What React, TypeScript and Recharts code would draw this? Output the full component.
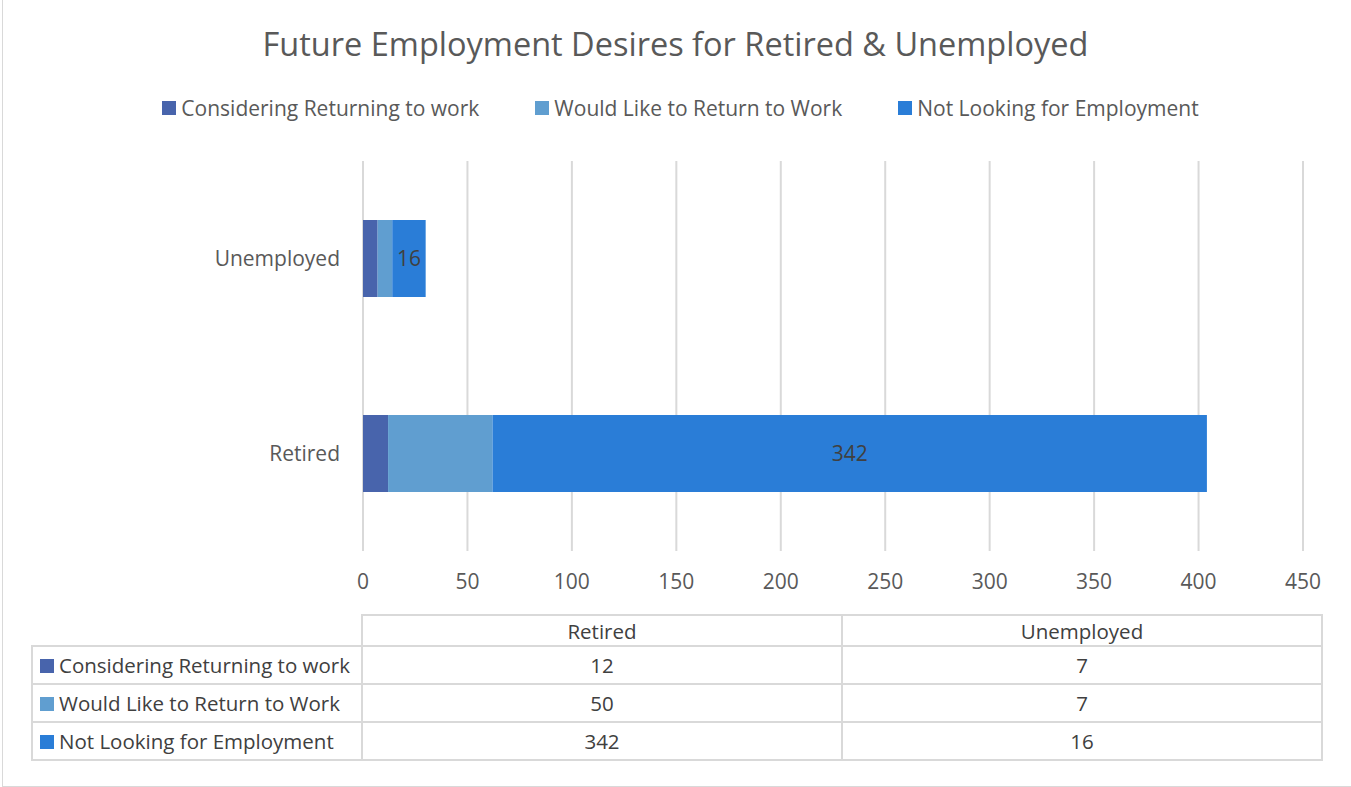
import React from "react";
import { BarChart, Bar, XAxis, YAxis, CartesianGrid, LabelList } from "recharts";

const categories = ["Retired", "Unemployed"];
const seriesNames = ["Considering Returning to work", "Would Like to Return to Work", "Not Looking for Employment"];
const considering = [12, 7];
const wouldLike = [50, 7];
const notLooking = [342, 16];
const xTicks = [0, 50, 100, 150, 200, 250, 300, 350, 400, 450];
const colors = ["#4864AC", "#609ED0", "#2A7DD7"];

const seriesValues = [considering, wouldLike, notLooking];
const keys = ["considering", "wouldLike", "notLooking"];

const data = categories.map((c, i) => ({
  category: c,
  considering: considering[i],
  wouldLike: wouldLike[i],
  notLooking: notLooking[i],
}));

const FONT = "'Open Sans', 'Noto Sans', sans-serif";

const cellBorder = "2px solid #d9d9d9";

export default function App() {
  return (
    <div style={{ position: "absolute", left: 0, top: 0, width: 1351, height: 787, background: "#fff", overflow: "hidden" }}>
      <div style={{ position: "absolute", left: 2, top: 0, width: 1349, height: 786, borderLeft: "1px solid #d9d9d9", borderBottom: "1px solid #d9d9d9" }} />
      <div style={{ position: "absolute", top: 21, left: 0, width: 1351, textAlign: "center", fontFamily: FONT, fontSize: 32.5, color: "#595959", whiteSpace: "nowrap" }}>
        Future Employment Desires for Retired &amp; Unemployed
      </div>
      <div
        style={{
          position: "absolute",
          top: 94,
          left: 5,
          width: 1351,
          display: "flex",
          justifyContent: "center",
          gap: 56,
          fontFamily: FONT,
          fontSize: 21,
          color: "#595959",
          whiteSpace: "nowrap",
        }}
      >
        {seriesNames.map((n, i) => (
          <div key={n} style={{ display: "flex", alignItems: "center" }}>
            <span style={{ display: "inline-block", width: 14, height: 14, background: colors[i], marginRight: 5 }} />
            <span>{n}</span>
          </div>
        ))}
      </div>
      <BarChart
        width={1351}
        height={787}
        data={data}
        layout="vertical"
        margin={{ top: 161, right: 48, bottom: 206, left: 0 }}
        barCategoryGap="30%"
      >
        <CartesianGrid horizontal={false} stroke="#d9d9d9" strokeWidth={2} />
        <XAxis
          type="number"
          domain={[0, 450]}
          ticks={xTicks}
          axisLine={false}
          tickLine={false}
          tickSize={0}
          tickMargin={23}
          tick={{ fill: "#595959", fontSize: 21, fontFamily: FONT }}
          interval={0}
        />
        <YAxis
          type="category"
          dataKey="category"
          reversed
          width={363}
          axisLine={false}
          tickLine={false}
          tickSize={0}
          tickMargin={23}
          tick={{ fill: "#595959", fontSize: 21, fontFamily: FONT }}
        />
        {keys.map((k, i) => (
          <Bar key={k} dataKey={k} name={seriesNames[i]} stackId="a" fill={colors[i]} barSize={77} isAnimationActive={false}>
            {i === 2 && (
              <LabelList dataKey={k} position="center" fill="#404040" fontSize={21} fontFamily={FONT} />
            )}
          </Bar>
        ))}
      </BarChart>
      <table
        style={{
          position: "absolute",
          left: 31,
          top: 614,
          borderCollapse: "collapse",
          fontFamily: FONT,
          fontSize: 20.5,
          color: "#404040",
        }}
      >
        <tbody>
          <tr style={{ height: 31 }}>
            <td style={{ width: 329, padding: 0 }} />
            {categories.map((c) => (
              <td key={c} style={{ width: 478, border: cellBorder, textAlign: "center", padding: 0 }}>{c}</td>
            ))}
          </tr>
          {seriesNames.map((n, i) => (
            <tr key={n} style={{ height: 38 }}>
              <td style={{ border: cellBorder, padding: "0 0 0 7px", whiteSpace: "nowrap" }}>
                <span style={{ display: "inline-block", width: 14, height: 14, background: colors[i], marginRight: 5 }} />
                {n}
              </td>
              {categories.map((c, j) => (
                <td key={c} style={{ border: cellBorder, textAlign: "center", padding: 0 }}>{seriesValues[i][j]}</td>
              ))}
            </tr>
          ))}
        </tbody>
      </table>
    </div>
  );
}
